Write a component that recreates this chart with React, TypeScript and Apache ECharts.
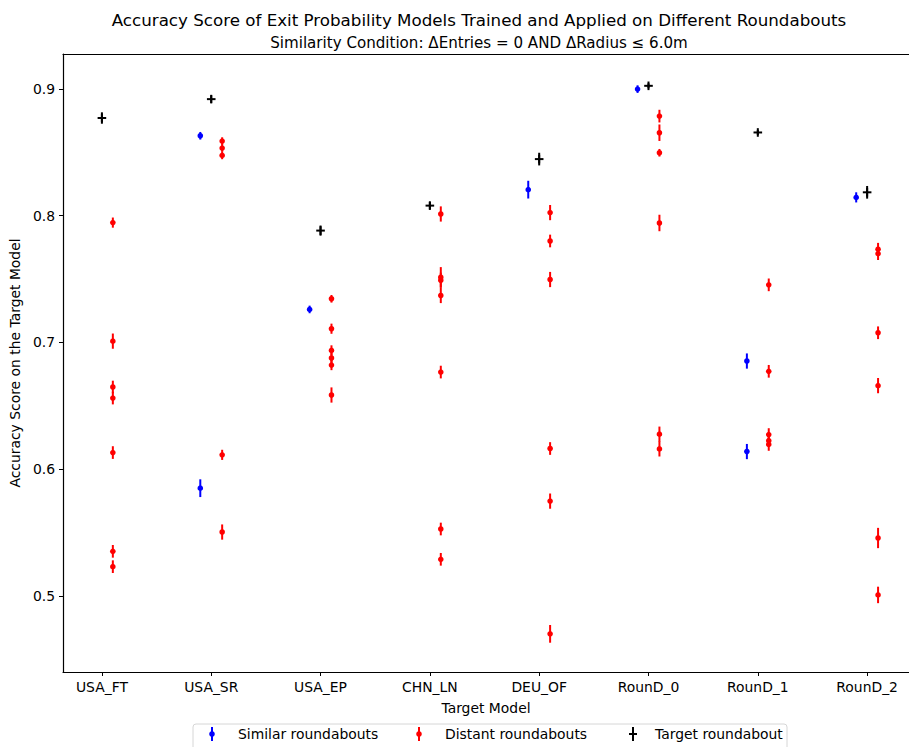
import React, { useEffect, useRef } from "react";
import * as echarts from "echarts";

const categories = ["USA_FT", "USA_SR", "USA_EP", "CHN_LN", "DEU_OF", "RounD_0", "RounD_1", "RounD_2"];
const yTickValues = [0.5, 0.6, 0.7, 0.8, 0.9];

const similarValues: number[][] = [[], [0.863, 0.585], [0.726], [], [0.8205], [0.8998], [0.6853, 0.6139], [0.8144]];
const similarErrors: number[][] = [[], [0.003, 0.007], [0.003], [], [0.007], [0.003], [0.006, 0.006], [0.004]];

const distantValues: number[][] = [
  [0.7945, 0.701, 0.6648, 0.6561, 0.6131, 0.5352, 0.5231],
  [0.8588, 0.8533, 0.8475, 0.6113, 0.5504],
  [0.7344, 0.7108, 0.6937, 0.6877, 0.6821, 0.6585],
  [0.8013, 0.7514, 0.749, 0.737, 0.6766, 0.5528, 0.5289],
  [0.8024, 0.78, 0.7496, 0.6163, 0.5748, 0.4701],
  [0.8785, 0.8654, 0.8496, 0.7942, 0.6276, 0.616],
  [0.7454, 0.6772, 0.6273, 0.6225, 0.6195],
  [0.7735, 0.77, 0.7076, 0.6659, 0.5457, 0.5008],
];
const distantErrors: number[][] = [
  [0.004, 0.006, 0.005, 0.005, 0.005, 0.005, 0.005],
  [0.003, 0.003, 0.003, 0.004, 0.006],
  [0.003, 0.004, 0.004, 0.004, 0.004, 0.006],
  [0.006, 0.008, 0.006, 0.006, 0.005, 0.005, 0.005],
  [0.006, 0.005, 0.006, 0.005, 0.006, 0.007],
  [0.005, 0.0065, 0.003, 0.0065, 0.006, 0.006],
  [0.005, 0.005, 0.005, 0.005, 0.005],
  [0.005, 0.005, 0.005, 0.006, 0.008, 0.0065],
];

const targetValues = [0.877, 0.8919, 0.7882, 0.8079, 0.8446, 0.9024, 0.8656, 0.8184];
const targetErrors = [0.0045, 0.003, 0.004, 0.003, 0.005, 0.002, 0.002, 0.005];

const FONT = "DejaVu Sans";

function buildPoints(values: number[][], errors: number[][], offset: number) {
  const out: number[][] = [];
  values.forEach((list, i) => {
    list.forEach((v, j) => out.push([i + offset, v, errors[i][j]]));
  });
  return out;
}

function errRenderer(color: string, marker: "circle" | "plus") {
  return (params: any, api: any) => {
    const x = api.value(0);
    const y = api.value(1);
    const e = api.value(2);
    const p = api.coord([x, y]);
    const t = api.coord([x, y + e]);
    const b = api.coord([x, y - e]);
    const children: any[] = [
      {
        type: "line",
        shape: { x1: p[0], y1: t[1], x2: p[0], y2: b[1] },
        style: { stroke: color, lineWidth: 2 },
      },
    ];
    if (marker === "circle") {
      children.push({ type: "circle", shape: { cx: p[0], cy: p[1], r: 2.8 }, style: { fill: color } });
    } else {
      children.push({
        type: "line",
        shape: { x1: p[0] - 4.3, y1: p[1], x2: p[0] + 4.3, y2: p[1] },
        style: { stroke: color, lineWidth: 2 },
      });
      children.push({
        type: "line",
        shape: { x1: p[0], y1: p[1] - 4.3, x2: p[0], y2: p[1] + 4.3 },
        style: { stroke: color, lineWidth: 2 },
      });
    }
    return { type: "group", children };
  };
}

export default function App() {
  const ref = useRef<HTMLDivElement>(null);
  useEffect(() => {
    if (!ref.current) return;
    const chart = echarts.init(ref.current, null, { renderer: "svg" });
    const similarPts = buildPoints(similarValues, similarErrors, -0.1);
    const distantPts = buildPoints(distantValues, distantErrors, 0.1);
    const targetPts = targetValues.map((v, i) => [i, v, targetErrors[i]]);
    const idx = categories.map((_, i) => i);
    const legendY = 734;
    const legendItems = [
      { x: 212, textX: 238, color: "#0000ff", kind: "circle", label: "Similar roundabouts" },
      { x: 419, textX: 445, color: "#ff0000", kind: "circle", label: "Distant roundabouts" },
      { x: 633, textX: 655, color: "#000000", kind: "plus", label: "Target roundabout" },
    ];
    const legendGraphics: any[] = [
      {
        type: "rect",
        shape: { x: 193, y: 724, width: 594, height: 34, r: 3 },
        style: { fill: "#ffffff", stroke: "#d6d6d6", lineWidth: 1 },
      },
    ];
    legendItems.forEach((it) => {
      legendGraphics.push({
        type: "line",
        shape: { x1: it.x, y1: legendY - 7, x2: it.x, y2: legendY + 7 },
        style: { stroke: it.color, lineWidth: 2 },
      });
      if (it.kind === "circle") {
        legendGraphics.push({ type: "circle", shape: { cx: it.x, cy: legendY, r: 2.8 }, style: { fill: it.color } });
      } else {
        legendGraphics.push({
          type: "line",
          shape: { x1: it.x - 4, y1: legendY, x2: it.x + 4, y2: legendY },
          style: { stroke: it.color, lineWidth: 2 },
        });
      }
      legendGraphics.push({
        type: "text",
        x: it.textX,
        y: legendY,
        style: {
          text: it.label,
          fill: "#000",
          font: `13.9px "${FONT}"`,
          verticalAlign: "middle",
          align: "left",
        },
      });
    });

    chart.setOption({
      animation: false,
      backgroundColor: "#ffffff",
      title: [
        {
          text: "Accuracy Score of Exit Probability Models Trained and Applied on Different Roundabouts",
          left: 474,
          top: 6,
          textAlign: "center",
          textStyle: { fontFamily: FONT, fontSize: 16.7, fontWeight: "normal", color: "#000" },
        },
        {
          text: "Similarity Condition: ΔEntries = 0 AND ΔRadius ≤ 6.0m",
          left: 474,
          top: 30,
          textAlign: "center",
          textStyle: { fontFamily: FONT, fontSize: 15.1, fontWeight: "normal", color: "#000" },
        },
      ],
      grid: { left: 62, top: 54, right: -2, bottom: 75, containLabel: false },
      xAxis: [
        {
          type: "value",
          min: -0.356,
          max: 7.383,
          name: "Target Model",
          nameLocation: "middle",
          nameGap: 29,
          nameTextStyle: { fontFamily: FONT, fontSize: 13.9, color: "#000" },
          axisLine: { show: true, onZero: false, lineStyle: { color: "#000", width: 1.2 } },
          axisTick: { show: true, customValues: idx, length: 4, lineStyle: { color: "#000" } },
          axisLabel: {
            customValues: idx,
            formatter: (v: number) => categories[Math.round(v)] ?? "",
            fontFamily: FONT,
            fontSize: 13.9,
            color: "#000",
            margin: 8,
          },
          splitLine: { show: false },
        },
        {
          type: "value",
          position: "top",
          min: -0.356,
          max: 7.383,
          axisLine: { show: true, onZero: false, lineStyle: { color: "#000", width: 1.2 } },
          axisTick: { show: false },
          axisLabel: { show: false },
          splitLine: { show: false },
        },
      ],
      yAxis: {
        type: "value",
        min: 0.44,
        max: 0.9275,
        name: "Accuracy Score on the Target Model",
        nameLocation: "middle",
        nameGap: 34,
        nameTextStyle: { fontFamily: FONT, fontSize: 13.9, color: "#000" },
        axisLine: { show: true, onZero: false, lineStyle: { color: "#000", width: 1.2 } },
        axisTick: { show: true, customValues: yTickValues, length: 4, lineStyle: { color: "#000" } },
        axisLabel: {
          customValues: yTickValues,
          formatter: (v: number) => v.toFixed(1),
          fontFamily: FONT,
          fontSize: 13.9,
          color: "#000",
          margin: 8,
        },
        splitLine: { show: false },
      },
      series: [
        {
          name: "Similar roundabouts",
          type: "custom",
          renderItem: errRenderer("#0000ff", "circle"),
          data: similarPts,
          encode: { x: 0, y: 1 },
        },
        {
          name: "Distant roundabouts",
          type: "custom",
          renderItem: errRenderer("#ff0000", "circle"),
          data: distantPts,
          encode: { x: 0, y: 1 },
        },
        {
          name: "Target roundabout",
          type: "custom",
          renderItem: errRenderer("#000000", "plus"),
          data: targetPts,
          encode: { x: 0, y: 1 },
        },
      ],
      graphic: legendGraphics,
    });
    return () => chart.dispose();
  }, []);
  return <div ref={ref} style={{ position: "fixed", left: 0, top: 0, width: 909, height: 747 }} />;
}
